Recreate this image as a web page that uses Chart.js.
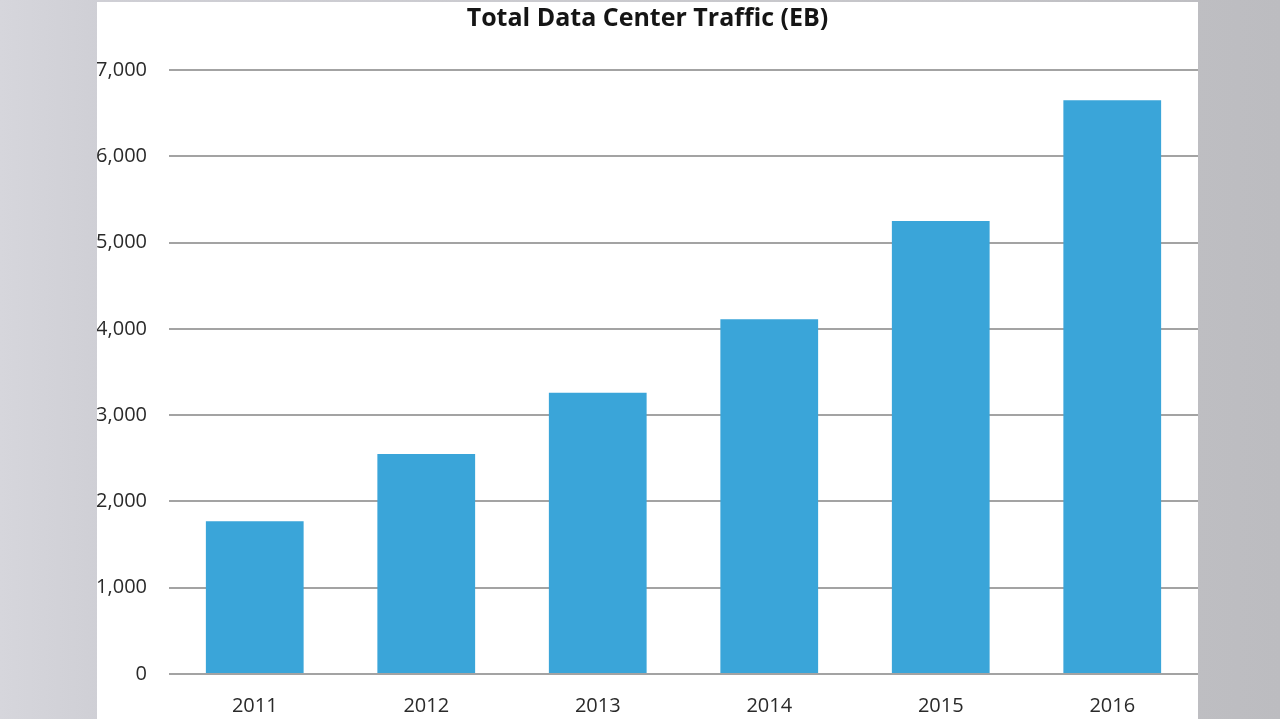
<!DOCTYPE html>
<html>
<head>
<meta charset="utf-8">
<script src="https://cdn.jsdelivr.net/npm/chart.js@4"></script>
<style>
    html, body {
        margin: 0;
        padding: 0;
        width: 1280px;
        height: 719px;
        overflow: hidden;
        background: linear-gradient(to right, #d6d6dc 0%, #cfcfd5 8%, #c8c8cc 60%, #bcbcc0 100%);
    }
    #panel {
        position: absolute;
        left: 97px;
        top: 2px;
        width: 1101px;
        height: 717px;
        background: #ffffff;
    }
</style>
</head>
<body>
<div id="panel">
    <canvas id="myChart" width="1101" height="717"></canvas>
</div>
<script>
const years = ['2011', '2012', '2013', '2014', '2015', '2016'];
const traffic = [1770, 2550, 3260, 4110, 5250, 6650];
const yTicks = [0, 1000, 2000, 3000, 4000, 5000, 6000, 7000];

document.addEventListener('DOMContentLoaded', function () {
    let ctx = document.getElementById('myChart').getContext('2d');
    let chart = new Chart(ctx, {
        type: 'bar',
        data: {
            labels: years,
            datasets: [{
                label: 'Total Data Center Traffic (EB)',
                data: traffic,
                backgroundColor: '#3aa5d9',
                categoryPercentage: 1,
                barPercentage: 0.57,
            }]
        },
        options: {
            responsive: false,
            animation: false,
            layout: {
                padding: {top: 0, right: 0, bottom: 0, left: 0},
            },
            plugins: {
                legend: {display: false},
                tooltip: {enabled: false},
                title: {
                    display: true,
                    text: 'Total Data Center Traffic (EB)',
                    color: '#151515',
                    font: {family: 'Open Sans', size: 25, weight: 'bold', lineHeight: 1.2},
                    padding: {top: 2, bottom: 36},
                }
            },
            scales: {
                x: {
                    afterFit: function (scale) {
                        scale.height = 45;
                    },
                    grid: {display: false, drawTicks: false},
                    border: {display: false},
                    ticks: {
                        color: '#2a2a2a',
                        padding: 20,
                        font: {family: 'Open Sans', size: 20},
                    }
                },
                y: {
                    min: 0,
                    max: 7000,
                    afterBuildTicks: function (scale) {
                        scale.ticks = yTicks.map(v => ({value: v}));
                    },
                    afterFit: function (scale) {
                        scale.width = 72;
                    },
                    grid: {
                        color: '#a3a3a3',
                        lineWidth: 2,
                        drawTicks: false,
                    },
                    border: {display: false},
                    ticks: {
                        color: '#2a2a2a',
                        padding: 22,
                        font: {family: 'Open Sans', size: 20},
                        callback: function (value) {
                            return value.toLocaleString('en-US');
                        }
                    }
                }
            }
        }
    });
});
</script>
</body>
</html>
